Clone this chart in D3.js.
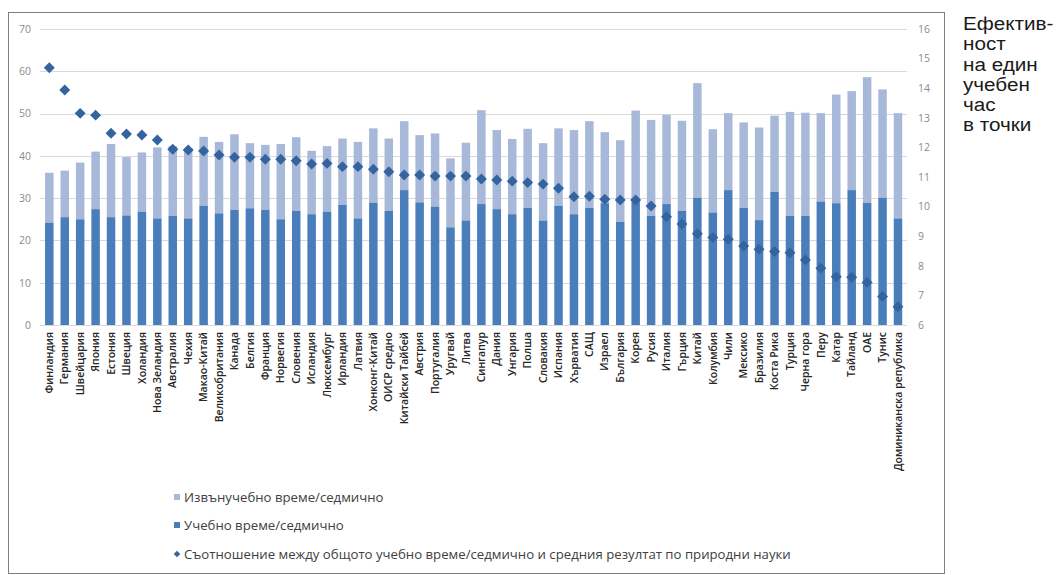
<!DOCTYPE html>
<html><head><meta charset="utf-8">
<script src="https://cdn.jsdelivr.net/npm/d3@7"></script>
<style>
html,body{margin:0;padding:0;background:#fff;}
svg{display:block;}
</style></head>
<body>
<svg id="chart" width="1058" height="575"></svg>
<script>
const categories = ["Финландия","Германия","Швейцария","Япония","Естония","Швеция","Холандия","Нова Зеландия","Австралия","Чехия","Макао-Китай","Великобритания","Канада","Белгия","Франция","Норвегия","Словения","Исландия","Люксембург","Ирландия","Латвия","Хонконг-Китай","ОИСР средно","Китайски Тайбей","Австрия","Португалия","Уругвай","Литва","Сингапур","Дания","Унгария","Полша","Словакия","Испания","Хърватия","САЩ","Израел","България","Корея","Русия","Италия","Гърция","Китай","Колумбия","Чили","Мексико","Бразилия","Коста Рика","Турция","Черна гора","Перу","Катар","Тайланд","ОАЕ","Тунис","Доминиканска република"];

const instructionTime = [24.2,25.5,25.0,27.4,25.5,25.9,26.8,25.2,25.8,25.2,28.2,26.4,27.2,27.6,27.2,25.0,27.0,26.2,26.8,28.4,25.2,28.9,27.0,31.9,29.0,28.0,23.1,24.7,28.6,27.4,26.2,27.7,24.7,28.2,26.2,27.7,28.8,24.4,29.2,25.8,28.6,27.0,30.1,26.6,31.9,27.7,24.8,31.5,25.8,25.8,29.2,28.8,31.9,28.9,30.1,25.2];

const outOfClassTime = [11.8,11.0,13.4,13.6,17.3,13.8,14.0,16.8,16.5,16.6,16.3,16.9,17.9,15.4,15.4,17.8,17.4,15.0,15.5,15.7,18.1,17.6,17.1,16.3,15.9,17.3,16.3,18.4,22.2,18.7,17.8,18.7,18.3,18.3,19.9,20.5,16.8,19.3,21.5,22.7,21.1,21.3,27.1,19.7,18.2,20.2,21.9,18.0,24.6,24.4,20.9,25.7,23.4,29.7,25.6,24.9];

const efficiency = [14.69,13.94,13.15,13.09,12.48,12.45,12.42,12.25,11.94,11.91,11.88,11.74,11.67,11.67,11.60,11.60,11.55,11.44,11.46,11.35,11.35,11.26,11.18,11.07,11.07,11.03,11.03,11.03,10.93,10.90,10.86,10.81,10.76,10.62,10.33,10.35,10.25,10.22,10.22,10.02,9.66,9.41,9.08,8.96,8.90,8.67,8.56,8.48,8.44,8.20,7.92,7.63,7.61,7.44,6.96,6.62];

const leftTicks = [0,10,20,30,40,50,60,70];
const rightTicks = [6,7,8,9,10,11,12,13,14,15,16];

const legendLabels = ["Извънучебно време/седмично","Учебно време/седмично","Съотношение между общото учебно време/седмично и средния резултат по природни науки"];
const sideTitle = ["Ефектив-","ност","на един","учебен","час","в точки"];

const colLight = "#a7b8d9", colDark = "#4a7ebb", colDiamond = "#34649f";
const tickFont = "'Open Sans', sans-serif";

const svg = d3.select("#chart");

// frame
svg.append("rect").attr("x",8.5).attr("y",12.5).attr("width",936).attr("height",561)
  .attr("fill","#fff").attr("stroke","#7f7f7f").attr("stroke-width",1);

const x = d3.scaleBand().domain(categories).range([41.6,905.7]).paddingInner(0.45).paddingOuter(0.225);
const yL = d3.scaleLinear().domain([0,70]).range([325,29]);
const yR = d3.scaleLinear().domain([6,16]).range([325,29]);

// gridlines
svg.append("g").selectAll("line").data(leftTicks).join("line")
  .attr("x1",40).attr("x2",907)
  .attr("y1",d=>Math.round(yL(d))+0.5).attr("y2",d=>Math.round(yL(d))+0.5)
  .attr("stroke","#d9d9d9").attr("stroke-width",1);

// left axis
const axL = svg.append("g").attr("transform","translate(36,0)")
  .call(d3.axisLeft(yL).tickValues(leftTicks).tickSize(0).tickPadding(5));
axL.select(".domain").remove();
axL.selectAll("text").attr("fill","#8c8c8c").style("font-family",tickFont).style("font-size","10.5px");

// right axis
const axR = svg.append("g").attr("transform","translate(912,0)")
  .call(d3.axisRight(yR).tickValues(rightTicks).tickSize(0).tickPadding(6));
axR.select(".domain").remove();
axR.selectAll("text").attr("fill","#8c8c8c").style("font-family",tickFont).style("font-size","10.5px");

// bars
const data = categories.map((c,i)=>({c, a:instructionTime[i], b:outOfClassTime[i], e:efficiency[i]}));
svg.append("g").selectAll("rect").data(data).join("rect")
  .attr("x",d=>x(d.c)).attr("width",x.bandwidth())
  .attr("y",d=>yL(d.a+d.b)).attr("height",d=>yL(d.a)-yL(d.a+d.b))
  .attr("fill",colLight);
svg.append("g").selectAll("rect").data(data).join("rect")
  .attr("x",d=>x(d.c)).attr("width",x.bandwidth())
  .attr("y",d=>yL(d.a)).attr("height",d=>yL(0)-yL(d.a))
  .attr("fill",colDark);

// diamonds
const diamond = d3.symbol().type(d3.symbolSquare).size(60);
svg.append("g").selectAll("path").data(data).join("path")
  .attr("d",diamond)
  .attr("transform",d=>`translate(${x(d.c)+x.bandwidth()/2},${yR(d.e)}) rotate(45)`)
  .attr("fill",colDiamond);

// category labels
const axB = svg.append("g").attr("transform","translate(0,325)")
  .call(d3.axisBottom(x).tickSize(0).tickPadding(0));
axB.select(".domain").remove();
axB.selectAll("text")
  .attr("transform","rotate(-90)")
  .attr("x",-7).attr("y",0).attr("dy","0.35em")
  .attr("text-anchor","end")
  .attr("fill","#262626")
  .style("font-family",tickFont).style("font-size","10.5px").style("font-weight","600");

// legend
const lg = svg.append("g").style("font-family",tickFont).style("font-size","13.2px");
const ly = [497,525,554];
lg.append("rect").attr("x",174).attr("y",ly[0]-3).attr("width",6).attr("height",6).attr("fill",colLight);
lg.append("rect").attr("x",174).attr("y",ly[1]-3).attr("width",6).attr("height",6).attr("fill",colDark);
lg.append("path").attr("d",d3.symbol().type(d3.symbolSquare).size(22))
  .attr("transform",`translate(177,${ly[2]}) rotate(45)`).attr("fill",colDiamond);
lg.selectAll("text").data(legendLabels).join("text")
  .attr("x",184).attr("y",(d,i)=>ly[i]).attr("dy","0.35em")
  .attr("fill","#404040").text(d=>d);

// side title
svg.append("g").attr("transform","translate(963,0) scale(1.1,1)")
  .selectAll("text").data(sideTitle).join("text")
  .attr("x",0).attr("y",(d,i)=>30+i*20.3)
  .style("font-family","'Liberation Sans', Arial, sans-serif").style("font-size","18.8px")
  .attr("fill","#1a1a1a").text(d=>d);
</script>
</body></html>
